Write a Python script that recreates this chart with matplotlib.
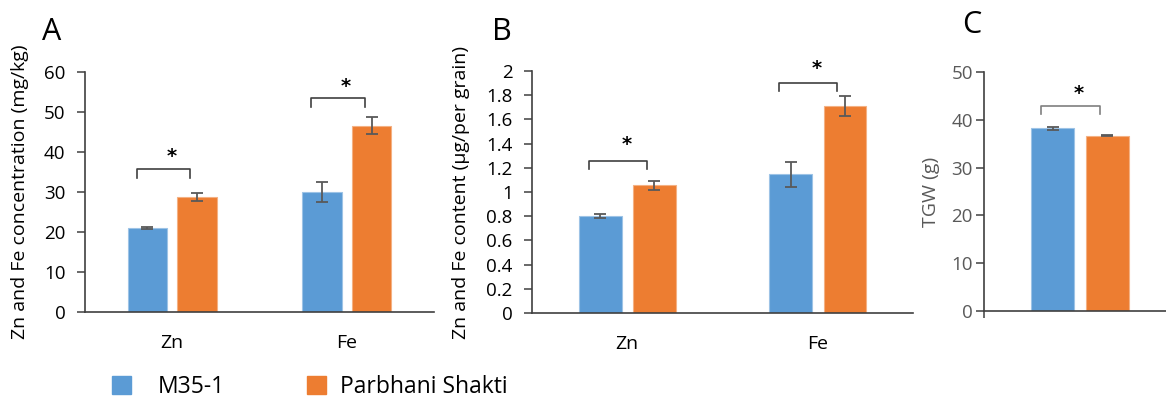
import matplotlib.pyplot as plt
import matplotlib.patches as mpatches
import numpy as np

plt.rcParams['font.family'] = ['Open Sans', 'DejaVu Sans']

# data
elements = ['Zn', 'Fe']
series = ['M35-1', 'Parbhani Shakti']

conc_m35 = [21.0, 30.0]
conc_m35_err = [0.3, 2.6]
conc_pbs = [28.8, 46.6]
conc_pbs_err = [1.0, 2.2]

cont_m35 = [0.80, 1.145]
cont_m35_err = [0.015, 0.105]
cont_pbs = [1.055, 1.71]
cont_pbs_err = [0.04, 0.08]

tgw_m35 = [38.2]
tgw_m35_err = [0.25]
tgw_pbs = [36.7]
tgw_pbs_err = [0.1]

# bracket (bottom, top, star) heights per group
brk_a = [(33.5, 35.8, 39.0), (51.2, 53.5, 56.5)]
brk_b = [(1.19, 1.256, 1.39), (1.835, 1.90, 2.02)]
brk_c = [(41.2, 42.9, 45.5)]

BLUE = '#5B9BD5'
ORANGE = '#ED7D31'
ERR = '#595959'

fig = plt.figure(figsize=(11.66, 3.99), dpi=100)
axA = fig.add_axes([0.0729, 0.218, 0.2993, 0.6015])
axB = fig.add_axes([0.4563, 0.2155, 0.3268, 0.6065])
axC = fig.add_axes([0.8439, 0.2206, 0.1561, 0.599])

w = 0.224
off = 0.142


def draw(ax, m, me, p, pe, brk, star_color='black', brk_color='#404040'):
    x = np.arange(len(m))
    ax.bar(x - off, m, w, color=BLUE, edgecolor='#9DC3E6', linewidth=0.8, zorder=2)
    ax.bar(x + off, p, w, color=ORANGE, edgecolor='#F4B183', linewidth=0.8, zorder=2)
    ax.errorbar(x - off, m, yerr=me, fmt='none', ecolor=ERR, elinewidth=1.3, capsize=4, capthick=1.3, zorder=3)
    ax.errorbar(x + off, p, yerr=pe, fmt='none', ecolor=ERR, elinewidth=1.3, capsize=4, capthick=1.3, zorder=3)
    for i, (b0, b1, s) in enumerate(brk):
        xs = [i - off - 0.06, i - off - 0.06, i + off - 0.04, i + off - 0.04]
        ax.plot(xs, [b0, b1, b1, b0], color=brk_color, lw=1.2, clip_on=False)
        ax.text(i - 0.005, s, '*', ha='center', va='center', fontsize=14, fontweight='bold',
                color=star_color, family='DejaVu Sans')
    for s in ['top', 'right']:
        ax.spines[s].set_visible(False)
    for s in ['left', 'bottom']:
        ax.spines[s].set_color('#404040')
        ax.spines[s].set_linewidth(1.2)
    ax.tick_params(axis='y', direction='out', length=6, width=1.1, color='#404040', labelsize=13.5, pad=8)


draw(axA, conc_m35, conc_m35_err, conc_pbs, conc_pbs_err, brk_a)
axA.set_xlim(-0.5, 1.5)
axA.set_ylim(0, 60)
axA.set_yticks(range(0, 61, 10))
axA.set_xticks(range(len(elements)))
axA.set_xticklabels(elements)
axA.tick_params(axis='x', length=0, labelsize=14, pad=16)
axA.set_ylabel('Zn and Fe concentration (mg/kg)', fontsize=14, labelpad=11)

draw(axB, cont_m35, cont_m35_err, cont_pbs, cont_pbs_err, brk_b)
axB.set_xlim(-0.5, 1.5)
axB.set_ylim(0, 2)
axB.set_yticks(np.arange(0, 2.01, 0.2))
axB.set_yticklabels(['0', '0.2', '0.4', '0.6', '0.8', '1', '1.2', '1.4', '1.6', '1.8', '2'])
axB.set_xticks(range(len(elements)))
axB.set_xticklabels(elements)
axB.tick_params(axis='x', length=0, labelsize=14, pad=16)
axB.set_ylabel('Zn and Fe content (\u00b5g/per grain)', fontsize=14, labelpad=12)

draw(axC, tgw_m35, tgw_m35_err, tgw_pbs, tgw_pbs_err, brk_c, brk_color='#7F7F7F')
axC.set_xlim(-0.5, 0.448)
axC.set_ylim(0, 50)
axC.set_yticks(range(0, 51, 10))
axC.set_xticks([-0.5])
axC.set_xticklabels([''])
axC.tick_params(axis='x', direction='out', length=5, width=1.1, color='#404040')
axC.tick_params(axis='y', labelcolor='#595959', pad=2)
axC.set_ylabel('TGW (g)', fontsize=14, color='#595959', labelpad=8)

fig.text(0.0446, 0.92, 'A', fontsize=22, ha='center', va='center')
fig.text(0.4305, 0.92, 'B', fontsize=22, ha='center', va='center')
fig.text(0.8336, 0.937, 'C', fontsize=22, ha='center', va='center')

handles = [mpatches.Patch(color=BLUE), mpatches.Patch(color=ORANGE)]
fig.legend([handles[0]], [series[0]], loc='center left', bbox_to_anchor=(0.096, 0.03),
           frameon=False, fontsize=16.5, handlelength=0.85, handleheight=0.85,
           handletextpad=1.15, borderpad=0, borderaxespad=0)
fig.legend([handles[1]], [series[1]], loc='center left', bbox_to_anchor=(0.263, 0.03),
           frameon=False, fontsize=16.5, handlelength=0.85, handleheight=0.85,
           handletextpad=0.6, borderpad=0, borderaxespad=0)

fig.savefig('out.png', dpi=100, facecolor='white')
